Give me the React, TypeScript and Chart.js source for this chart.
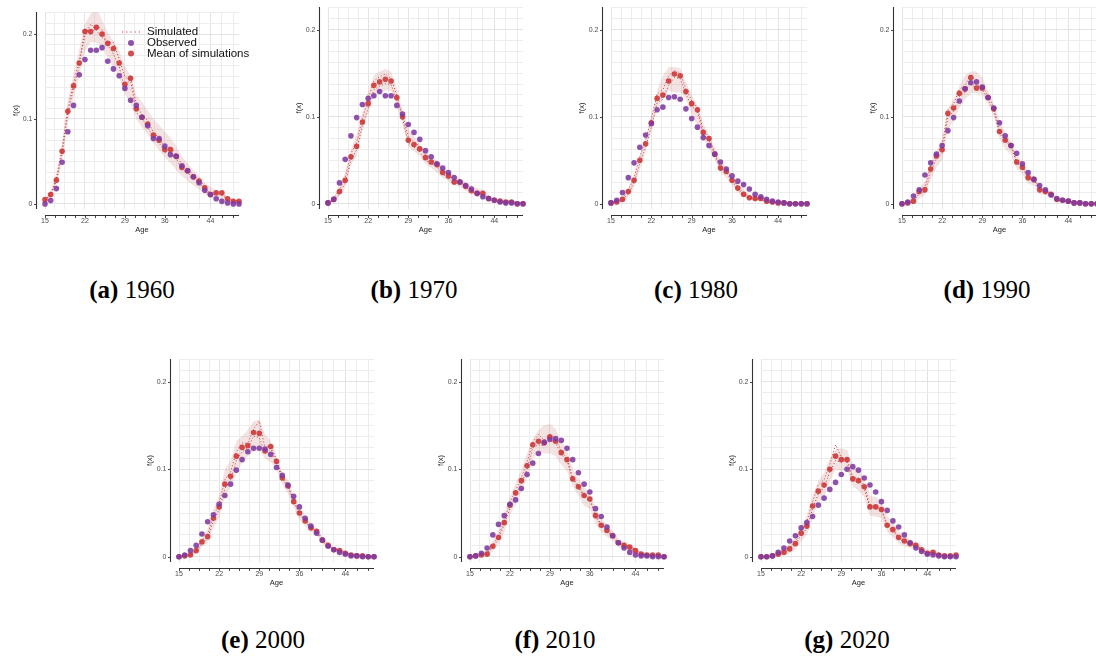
import { useEffect, useRef } from "react";
import { Chart, registerables } from "chart.js";

Chart.register(...registerables);

// Ages 15..49
const ages = [
  15, 16, 17, 18, 19, 20, 21, 22, 23, 24, 25, 26, 27, 28, 29, 30, 31, 32,
  33, 34, 35, 36, 37, 38, 39, 40, 41, 42, 43, 44, 45, 46, 47, 48, 49,
];

const xTickAges = [15, 22, 29, 36, 44];
const xGridAges = [
  15, 16.75, 18.5, 20.25, 22, 23.75, 25.5, 27.25, 29, 30.75, 32.5, 34.25, 36,
  38, 40, 42, 44, 46, 48,
];
const yTickValues = [0, 0.1, 0.2];
const yTickLabels = ["0", "0.1", "0.2"];
const yGridValues = [
  0, 0.0125, 0.025, 0.0375, 0.05, 0.0625, 0.075, 0.0875, 0.1, 0.1125, 0.125,
  0.1375, 0.15, 0.1625, 0.175, 0.1875, 0.2, 0.2125, 0.225,
];

// ---- 1960 ----
const observed1960 = [
  0.0, 0.004, 0.018, 0.049, 0.085, 0.116, 0.152, 0.17, 0.181, 0.181, 0.184,
  0.168, 0.159, 0.151, 0.136, 0.122, 0.116, 0.102, 0.092, 0.077, 0.077, 0.068,
  0.058, 0.056, 0.045, 0.039, 0.032, 0.025, 0.016, 0.011, 0.006, 0.003, 0.001,
  0.0, 0.0,
];
const mean1960 = [
  0.005, 0.011, 0.028, 0.062, 0.109, 0.139, 0.166, 0.203, 0.203, 0.208, 0.2,
  0.189, 0.183, 0.166, 0.141, 0.148, 0.112, 0.102, 0.094, 0.081, 0.075, 0.064,
  0.064, 0.056, 0.043, 0.039, 0.032, 0.027, 0.019, 0.011, 0.013, 0.013, 0.006,
  0.003, 0.003,
];
const lower1960 = [
  0.002, 0.006, 0.02, 0.05, 0.095, 0.125, 0.15, 0.18, 0.19, 0.19, 0.185, 0.172,
  0.16, 0.148, 0.13, 0.118, 0.1, 0.09, 0.082, 0.072, 0.063, 0.055, 0.048, 0.04,
  0.033, 0.027, 0.022, 0.017, 0.012, 0.008, 0.005, 0.003, 0.002, 0.001, 0.001,
];
const upper1960 = [
  0.006, 0.016, 0.036, 0.072, 0.122, 0.152, 0.182, 0.212, 0.224, 0.232, 0.216,
  0.202, 0.192, 0.18, 0.162, 0.15, 0.128, 0.12, 0.11, 0.1, 0.093, 0.085, 0.078,
  0.068, 0.056, 0.048, 0.04, 0.033, 0.025, 0.02, 0.016, 0.012, 0.008, 0.005,
  0.004,
];
const simA1960 = [
  0.004, 0.012, 0.03, 0.065, 0.112, 0.142, 0.17, 0.198, 0.212, 0.204, 0.196,
  0.19, 0.19, 0.171, 0.15, 0.145, 0.108, 0.1, 0.09, 0.079, 0.072, 0.061, 0.06,
  0.054, 0.04, 0.037, 0.03, 0.025, 0.017, 0.01, 0.012, 0.011, 0.005, 0.002,
  0.002,
];
const simB1960 = [
  0.005, 0.01, 0.027, 0.059, 0.106, 0.136, 0.162, 0.207, 0.199, 0.21, 0.205,
  0.187, 0.176, 0.162, 0.134, 0.151, 0.116, 0.105, 0.098, 0.084, 0.078, 0.066,
  0.067, 0.058, 0.046, 0.041, 0.034, 0.029, 0.021, 0.012, 0.014, 0.014, 0.007,
  0.004, 0.004,
];

// ---- 1970 ----
const observed1970 = [
  0.001, 0.005, 0.024, 0.051, 0.078, 0.099, 0.114, 0.121, 0.124, 0.129, 0.124,
  0.124, 0.113, 0.103, 0.091, 0.082, 0.074, 0.061, 0.054, 0.046, 0.041, 0.036,
  0.03, 0.025, 0.021, 0.017, 0.012, 0.008, 0.006, 0.004, 0.002, 0.001, 0.001,
  0.0, 0.0,
];
const mean1970 = [
  0.001, 0.005, 0.014, 0.027, 0.054, 0.066, 0.094, 0.115, 0.136, 0.14, 0.143,
  0.141, 0.122, 0.1, 0.073, 0.068, 0.063, 0.053, 0.048, 0.045, 0.036, 0.032,
  0.025, 0.025, 0.02, 0.015, 0.012, 0.012, 0.006, 0.004, 0.003, 0.002, 0.002,
  0.0, 0.0,
];
const lower1970 = [
  0.0, 0.002, 0.008, 0.018, 0.045, 0.055, 0.083, 0.104, 0.124, 0.128, 0.13,
  0.13, 0.112, 0.09, 0.066, 0.06, 0.055, 0.046, 0.041, 0.036, 0.03, 0.026,
  0.021, 0.019, 0.015, 0.011, 0.008, 0.007, 0.003, 0.002, 0.001, 0.001, 0.0,
  0.0, 0.0,
];
const upper1970 = [
  0.002, 0.008, 0.02, 0.036, 0.062, 0.08, 0.105, 0.128, 0.148, 0.152, 0.155,
  0.152, 0.132, 0.108, 0.086, 0.077, 0.068, 0.06, 0.054, 0.05, 0.043, 0.038,
  0.033, 0.029, 0.025, 0.021, 0.018, 0.016, 0.01, 0.007, 0.005, 0.004, 0.003,
  0.002, 0.002,
];
const simA1970 = [
  0.001, 0.006, 0.016, 0.03, 0.058, 0.07, 0.098, 0.12, 0.141, 0.146, 0.149,
  0.144, 0.125, 0.098, 0.07, 0.065, 0.06, 0.05, 0.046, 0.043, 0.034, 0.03,
  0.023, 0.024, 0.019, 0.014, 0.011, 0.011, 0.005, 0.003, 0.002, 0.002, 0.001,
  0.0, 0.0,
];
const simB1970 = [
  0.001, 0.004, 0.012, 0.024, 0.05, 0.062, 0.09, 0.11, 0.131, 0.135, 0.138,
  0.137, 0.119, 0.103, 0.076, 0.071, 0.066, 0.056, 0.05, 0.047, 0.038, 0.034,
  0.027, 0.026, 0.021, 0.016, 0.013, 0.013, 0.007, 0.005, 0.004, 0.003, 0.003,
  0.001, 0.001,
];

// ---- 1980 ----
const observed1980 = [
  0.001, 0.004, 0.013, 0.03, 0.047, 0.065, 0.079, 0.092, 0.108, 0.111, 0.122,
  0.123, 0.12, 0.109, 0.098, 0.088, 0.076, 0.067, 0.057, 0.048, 0.04, 0.032,
  0.026, 0.022, 0.017, 0.011, 0.008, 0.005, 0.003, 0.002, 0.001, 0.0, 0.0, 0.0,
  0.0,
];
const mean1980 = [
  0.001, 0.002, 0.005, 0.014, 0.027, 0.05, 0.069, 0.093, 0.121, 0.125, 0.141,
  0.149, 0.147, 0.129, 0.115, 0.108, 0.082, 0.075, 0.057, 0.041, 0.037, 0.027,
  0.018, 0.011, 0.007, 0.006, 0.006, 0.003, 0.002, 0.001, 0.001, 0.0, 0.0, 0.0,
  0.0,
];
const lower1980 = [
  0.0, 0.001, 0.002, 0.008, 0.018, 0.04, 0.06, 0.085, 0.11, 0.12, 0.13, 0.128,
  0.128, 0.12, 0.103, 0.09, 0.075, 0.063, 0.05, 0.036, 0.03, 0.021, 0.013,
  0.008, 0.005, 0.004, 0.003, 0.002, 0.001, 0.0, 0.0, 0.0, 0.0, 0.0, 0.0,
];
const upper1980 = [
  0.002, 0.004, 0.008, 0.018, 0.034, 0.056, 0.076, 0.1, 0.13, 0.147, 0.157,
  0.157, 0.156, 0.14, 0.125, 0.113, 0.092, 0.08, 0.065, 0.05, 0.042, 0.032,
  0.023, 0.016, 0.011, 0.009, 0.008, 0.005, 0.003, 0.002, 0.002, 0.001, 0.001,
  0.001, 0.001,
];
const simA1980 = [
  0.001, 0.002, 0.006, 0.016, 0.03, 0.054, 0.073, 0.098, 0.126, 0.131, 0.147,
  0.153, 0.15, 0.132, 0.118, 0.11, 0.084, 0.077, 0.058, 0.042, 0.036, 0.026,
  0.017, 0.01, 0.006, 0.005, 0.005, 0.002, 0.001, 0.001, 0.0, 0.0, 0.0, 0.0,
  0.0,
];
const simB1980 = [
  0.001, 0.002, 0.004, 0.012, 0.024, 0.046, 0.065, 0.088, 0.116, 0.12, 0.136,
  0.145, 0.144, 0.126, 0.112, 0.106, 0.08, 0.073, 0.056, 0.04, 0.038, 0.028,
  0.019, 0.012, 0.008, 0.007, 0.007, 0.004, 0.003, 0.002, 0.001, 0.001, 0.0,
  0.0, 0.0,
];

// ---- 1990 ----
const observed1990 = [
  0.0, 0.002, 0.009, 0.016, 0.033, 0.047, 0.057, 0.067, 0.084, 0.099, 0.118,
  0.132, 0.139, 0.14, 0.134, 0.122, 0.11, 0.093, 0.078, 0.067, 0.058, 0.046,
  0.036, 0.028, 0.021, 0.016, 0.01, 0.006, 0.004, 0.003, 0.001, 0.001, 0.0,
  0.0, 0.0,
];
const mean1990 = [
  0.0, 0.001, 0.003, 0.014, 0.016, 0.04, 0.055, 0.062, 0.104, 0.11, 0.127,
  0.132, 0.145, 0.133, 0.133, 0.122, 0.109, 0.083, 0.073, 0.067, 0.048, 0.042,
  0.03, 0.028, 0.016, 0.014, 0.011, 0.005, 0.004, 0.003, 0.001, 0.001, 0.0,
  0.0, 0.0,
];
const lower1990 = [
  0.0, 0.0, 0.001, 0.006, 0.01, 0.028, 0.042, 0.05, 0.085, 0.095, 0.11, 0.12,
  0.127, 0.127, 0.125, 0.115, 0.1, 0.075, 0.063, 0.057, 0.04, 0.034, 0.023,
  0.021, 0.011, 0.01, 0.007, 0.003, 0.002, 0.001, 0.0, 0.0, 0.0, 0.0, 0.0,
];
const upper1990 = [
  0.001, 0.003, 0.008, 0.018, 0.026, 0.045, 0.06, 0.075, 0.108, 0.12, 0.135,
  0.148, 0.152, 0.152, 0.145, 0.13, 0.115, 0.095, 0.082, 0.072, 0.057, 0.048,
  0.036, 0.032, 0.021, 0.018, 0.014, 0.008, 0.006, 0.005, 0.003, 0.002, 0.001,
  0.001, 0.001,
];
const simA1990 = [
  0.0, 0.001, 0.004, 0.016, 0.019, 0.044, 0.058, 0.066, 0.108, 0.115, 0.131,
  0.136, 0.149, 0.136, 0.135, 0.124, 0.111, 0.085, 0.074, 0.068, 0.049, 0.043,
  0.031, 0.029, 0.017, 0.015, 0.012, 0.006, 0.004, 0.003, 0.002, 0.001, 0.0,
  0.0, 0.0,
];
const simB1990 = [
  0.0, 0.001, 0.002, 0.012, 0.014, 0.036, 0.052, 0.058, 0.1, 0.106, 0.123,
  0.128, 0.141, 0.13, 0.131, 0.12, 0.107, 0.081, 0.072, 0.066, 0.047, 0.041,
  0.029, 0.027, 0.015, 0.013, 0.01, 0.004, 0.003, 0.002, 0.001, 0.001, 0.0,
  0.0, 0.0,
];

// ---- 2000 ----
const observed2000 = [
  0.0, 0.002, 0.007, 0.013, 0.026, 0.04, 0.048, 0.06, 0.07, 0.083, 0.099,
  0.111, 0.12, 0.124, 0.124, 0.123, 0.117, 0.102, 0.093, 0.082, 0.069, 0.057,
  0.044, 0.035, 0.027, 0.019, 0.012, 0.008, 0.005, 0.003, 0.001, 0.001, 0.0,
  0.0, 0.0,
];
const mean2000 = [
  0.0, 0.001, 0.002, 0.007, 0.017, 0.023, 0.044, 0.057, 0.083, 0.092, 0.115,
  0.125, 0.127, 0.142, 0.141, 0.121, 0.126, 0.109, 0.09, 0.081, 0.063, 0.05,
  0.041, 0.033, 0.029, 0.019, 0.013, 0.008, 0.007, 0.004, 0.002, 0.001, 0.001,
  0.0, 0.0,
];
const lower2000 = [
  0.0, 0.0, 0.001, 0.004, 0.011, 0.016, 0.033, 0.045, 0.068, 0.08, 0.095,
  0.108, 0.115, 0.12, 0.122, 0.112, 0.108, 0.1, 0.083, 0.072, 0.056, 0.043,
  0.035, 0.028, 0.024, 0.015, 0.01, 0.006, 0.005, 0.002, 0.001, 0.0, 0.0, 0.0,
  0.0,
];
const upper2000 = [
  0.001, 0.002, 0.004, 0.01, 0.022, 0.032, 0.055, 0.07, 0.1, 0.11, 0.132,
  0.138, 0.145, 0.155, 0.157, 0.14, 0.133, 0.115, 0.097, 0.088, 0.07, 0.057,
  0.047, 0.038, 0.033, 0.023, 0.017, 0.011, 0.009, 0.006, 0.004, 0.003, 0.002,
  0.001, 0.001,
];
const simA2000 = [
  0.0, 0.001, 0.002, 0.008, 0.019, 0.025, 0.047, 0.06, 0.088, 0.097, 0.12,
  0.13, 0.13, 0.146, 0.155, 0.124, 0.128, 0.111, 0.091, 0.082, 0.064, 0.051,
  0.042, 0.034, 0.03, 0.02, 0.014, 0.009, 0.008, 0.005, 0.003, 0.002, 0.001,
  0.0, 0.0,
];
const simB2000 = [
  0.0, 0.001, 0.002, 0.006, 0.015, 0.021, 0.041, 0.054, 0.078, 0.088, 0.11,
  0.12, 0.124, 0.138, 0.136, 0.118, 0.124, 0.107, 0.089, 0.08, 0.062, 0.049,
  0.04, 0.032, 0.028, 0.018, 0.012, 0.007, 0.006, 0.003, 0.002, 0.001, 0.001,
  0.0, 0.0,
];

// ---- 2010 ----
const observed2010 = [
  0.0, 0.001, 0.004, 0.01, 0.025, 0.037, 0.047, 0.06, 0.065, 0.078, 0.094,
  0.107, 0.118, 0.131, 0.134, 0.135, 0.133, 0.124, 0.111, 0.096, 0.083, 0.074,
  0.055, 0.046, 0.034, 0.024, 0.016, 0.01, 0.005, 0.002, 0.001, 0.001, 0.0,
  0.0, 0.0,
];
const mean2010 = [
  0.0, 0.001, 0.002, 0.003, 0.012, 0.022, 0.039, 0.059, 0.073, 0.087, 0.104,
  0.128, 0.132, 0.13, 0.137, 0.132, 0.119, 0.111, 0.089, 0.08, 0.07, 0.066,
  0.047, 0.036, 0.03, 0.024, 0.016, 0.013, 0.011, 0.007, 0.003, 0.002, 0.002,
  0.002, 0.0,
];
const lower2010 = [
  0.0, 0.0, 0.001, 0.001, 0.006, 0.014, 0.028, 0.048, 0.06, 0.075, 0.09, 0.112,
  0.12, 0.118, 0.118, 0.115, 0.105, 0.098, 0.08, 0.07, 0.058, 0.055, 0.038,
  0.028, 0.023, 0.018, 0.011, 0.008, 0.006, 0.004, 0.001, 0.001, 0.0, 0.0, 0.0,
];
const upper2010 = [
  0.001, 0.002, 0.004, 0.008, 0.018, 0.03, 0.05, 0.068, 0.084, 0.1, 0.118,
  0.135, 0.145, 0.15, 0.152, 0.146, 0.132, 0.122, 0.1, 0.09, 0.08, 0.072,
  0.056, 0.044, 0.037, 0.03, 0.021, 0.017, 0.014, 0.01, 0.006, 0.004, 0.003,
  0.003, 0.002,
];
const simA2010 = [
  0.0, 0.001, 0.002, 0.004, 0.013, 0.024, 0.041, 0.062, 0.076, 0.09, 0.108,
  0.131, 0.14, 0.133, 0.139, 0.134, 0.121, 0.112, 0.09, 0.081, 0.071, 0.067,
  0.048, 0.037, 0.031, 0.025, 0.017, 0.014, 0.012, 0.008, 0.004, 0.003, 0.002,
  0.002, 0.0,
];
const simB2010 = [
  0.0, 0.001, 0.002, 0.003, 0.011, 0.02, 0.037, 0.056, 0.07, 0.084, 0.1,
  0.125, 0.128, 0.127, 0.134, 0.13, 0.117, 0.11, 0.088, 0.079, 0.069, 0.065,
  0.046, 0.035, 0.029, 0.023, 0.015, 0.012, 0.01, 0.006, 0.002, 0.002, 0.002,
  0.002, 0.0,
];

// ---- 2020 ----
const observed2020 = [
  0.0, 0.0, 0.001, 0.005, 0.01, 0.018, 0.024, 0.033, 0.039, 0.046, 0.059,
  0.067, 0.077, 0.085, 0.094, 0.1, 0.103, 0.099, 0.09, 0.082, 0.074, 0.063,
  0.053, 0.041, 0.034, 0.025, 0.016, 0.01, 0.006, 0.003, 0.002, 0.001, 0.0,
  0.0, 0.0,
];
const mean2020 = [
  0.0, 0.0, 0.001, 0.003, 0.005, 0.009, 0.015, 0.027, 0.035, 0.058, 0.075,
  0.082, 0.1, 0.115, 0.111, 0.111, 0.089, 0.087, 0.08, 0.057, 0.057, 0.054,
  0.036, 0.031, 0.022, 0.018, 0.015, 0.013, 0.008, 0.004, 0.005, 0.002, 0.001,
  0.001, 0.002,
];
const lower2020 = [
  0.0, 0.0, 0.0, 0.001, 0.002, 0.004, 0.008, 0.018, 0.025, 0.045, 0.062, 0.068,
  0.086, 0.1, 0.098, 0.1, 0.08, 0.076, 0.068, 0.047, 0.046, 0.044, 0.028,
  0.023, 0.015, 0.012, 0.01, 0.009, 0.005, 0.002, 0.002, 0.001, 0.0, 0.0, 0.0,
];
const upper2020 = [
  0.001, 0.001, 0.002, 0.006, 0.009, 0.015, 0.022, 0.036, 0.047, 0.07, 0.087,
  0.096, 0.112, 0.123, 0.124, 0.122, 0.105, 0.1, 0.09, 0.07, 0.068, 0.064,
  0.046, 0.04, 0.03, 0.025, 0.02, 0.017, 0.012, 0.008, 0.008, 0.005, 0.003,
  0.003, 0.003,
];
const simA2020 = [
  0.0, 0.0, 0.001, 0.003, 0.006, 0.01, 0.017, 0.03, 0.04, 0.063, 0.082, 0.088,
  0.106, 0.128, 0.114, 0.108, 0.087, 0.085, 0.078, 0.056, 0.056, 0.053, 0.035,
  0.03, 0.021, 0.017, 0.014, 0.012, 0.008, 0.004, 0.005, 0.002, 0.001, 0.001,
  0.002,
];
const simB2020 = [
  0.0, 0.0, 0.001, 0.003, 0.005, 0.008, 0.014, 0.025, 0.032, 0.055, 0.072,
  0.079, 0.097, 0.11, 0.108, 0.112, 0.091, 0.089, 0.082, 0.058, 0.058, 0.055,
  0.037, 0.032, 0.023, 0.019, 0.016, 0.014, 0.009, 0.005, 0.005, 0.002, 0.001,
  0.001, 0.002,
];

// Colours
const OBS_COLOR = "rgba(128, 58, 160, 0.88)";
const MEAN_COLOR = "rgba(204, 52, 52, 0.88)";
const SIM_COLOR = "rgba(210, 40, 40, 0.9)";
const RIBBON_COLOR = "rgba(196, 100, 100, 0.18)";
const SANS = "'Liberation Sans', Arial, sans-serif";

type PanelSpec = {
  letter: string;
  year: string;
  observed: number[];
  mean: number[];
  lower: number[];
  upper: number[];
  sims: number[][];
  legend: boolean;
  // layout in page pixels
  plotLeft: number;
  plotRight: number;
  gridTop: number;
  gridBottom: number;
  rowTop: number;
  captionX: number;
  captionY: number;
};

const panels: PanelSpec[] = [
  { letter: "(a)", year: "1960", observed: observed1960, mean: mean1960, lower: lower1960, upper: upper1960, sims: [simA1960, simB1960], legend: true, plotLeft: 45, plotRight: 239, gridTop: 12, gridBottom: 209, rowTop: 0, captionX: 132, captionY: 290 },
  { letter: "(b)", year: "1970", observed: observed1970, mean: mean1970, lower: lower1970, upper: upper1970, sims: [simA1970, simB1970], legend: false, plotLeft: 328, plotRight: 523, gridTop: 7, gridBottom: 209, rowTop: 0, captionX: 414, captionY: 290 },
  { letter: "(c)", year: "1980", observed: observed1980, mean: mean1980, lower: lower1980, upper: upper1980, sims: [simA1980, simB1980], legend: false, plotLeft: 611, plotRight: 807, gridTop: 7, gridBottom: 209, rowTop: 0, captionX: 696, captionY: 290 },
  { letter: "(d)", year: "1990", observed: observed1990, mean: mean1990, lower: lower1990, upper: upper1990, sims: [simA1990, simB1990], legend: false, plotLeft: 902, plotRight: 1097, gridTop: 7, gridBottom: 209, rowTop: 0, captionX: 987, captionY: 290 },
  { letter: "(e)", year: "2000", observed: observed2000, mean: mean2000, lower: lower2000, upper: upper2000, sims: [simA2000, simB2000], legend: false, plotLeft: 179, plotRight: 374, gridTop: 359, gridBottom: 562, rowTop: 352, captionX: 263, captionY: 640 },
  { letter: "(f)", year: "2010", observed: observed2010, mean: mean2010, lower: lower2010, upper: upper2010, sims: [simA2010, simB2010], legend: false, plotLeft: 470, plotRight: 664, gridTop: 359, gridBottom: 562, rowTop: 352, captionX: 555, captionY: 640 },
  { letter: "(g)", year: "2020", observed: observed2020, mean: mean2020, lower: lower2020, upper: upper2020, sims: [simA2020, simB2020], legend: false, plotLeft: 761, plotRight: 956, gridTop: 359, gridBottom: 562, rowTop: 352, captionX: 847, captionY: 640 },
];

const CANVAS_W = 270;
const CANVAS_H = 245;
const LEFT_PAD = 45;

const toPoints = (values: number[]) => ages.map((age, i) => ({ x: age, y: values[i] }));

// Offset axis lines, tick marks, tick labels, axis titles and the legend
const panelAxes = {
  id: "panelAxes",
  afterDraw(chart: any, _args: any, opts: any) {
    const { ctx, chartArea: ca, scales } = chart;
    const x = scales.x;
    const y = scales.y;
    const axX = Math.round(ca.left - 9) + 0.5;
    const axY = Math.round(ca.bottom + 6) + 0.5;
    ctx.save();
    ctx.strokeStyle = "#333333";
    ctx.lineWidth = 1.1;
    ctx.beginPath();
    ctx.moveTo(axX, ca.top);
    ctx.lineTo(axX, ca.bottom);
    ctx.moveTo(ca.left, axY);
    ctx.lineTo(ca.right, axY);
    ctx.stroke();

    ctx.lineWidth = 0.9;
    ctx.beginPath();
    yTickValues.forEach((v) => {
      const py = Math.round(y.getPixelForValue(v)) + 0.5;
      ctx.moveTo(axX - 2.5, py);
      ctx.lineTo(axX, py);
    });
    xGridAges.forEach((v) => {
      const px = Math.round(x.getPixelForValue(v)) + 0.5;
      ctx.moveTo(px, axY);
      ctx.lineTo(px, axY + 2.5);
    });
    ctx.stroke();

    ctx.fillStyle = "#4d4d4d";
    ctx.font = `7px ${SANS}`;
    ctx.textAlign = "right";
    ctx.textBaseline = "middle";
    yTickValues.forEach((v, i) => {
      ctx.fillText(yTickLabels[i], axX - 4, y.getPixelForValue(v));
    });
    ctx.textAlign = "center";
    ctx.textBaseline = "top";
    xTickAges.forEach((v) => {
      ctx.fillText(String(v), x.getPixelForValue(v), axY + 2.5);
    });

    ctx.fillStyle = "#222222";
    ctx.font = `7.5px ${SANS}`;
    ctx.textBaseline = "middle";
    ctx.fillText("Age", (ca.left + ca.right) / 2, axY + 14.5);
    ctx.save();
    ctx.translate(axX - 21, (ca.top + ca.bottom) / 2);
    ctx.rotate(-Math.PI / 2);
    ctx.fillText("f(x)", 0, 0);
    ctx.restore();

    if (opts && opts.legend) {
      const lx = ca.left + 86;
      const rows = [ca.top + 20, ca.top + 31, ca.top + 41.5];
      ctx.strokeStyle = SIM_COLOR;
      ctx.lineWidth = 1.1;
      ctx.setLineDash([1.2, 3]);
      ctx.beginPath();
      ctx.moveTo(lx - 9, rows[0]);
      ctx.lineTo(lx + 9, rows[0]);
      ctx.stroke();
      ctx.setLineDash([]);
      ctx.fillStyle = OBS_COLOR;
      ctx.beginPath();
      ctx.arc(lx, rows[1], 3, 0, Math.PI * 2);
      ctx.fill();
      ctx.fillStyle = MEAN_COLOR;
      ctx.beginPath();
      ctx.arc(lx, rows[2], 3, 0, Math.PI * 2);
      ctx.fill();
      ctx.fillStyle = "#111111";
      ctx.font = `11.5px ${SANS}`;
      ctx.textAlign = "left";
      ctx.textBaseline = "middle";
      ctx.fillText("Simulated", lx + 16, rows[0]);
      ctx.fillText("Observed", lx + 16, rows[1]);
      ctx.fillText("Mean of simulations", lx + 16, rows[2]);
    }
    ctx.restore();
  },
};

function PanelChart({ panel }: { panel: PanelSpec }) {
  const ref = useRef<HTMLCanvasElement | null>(null);

  useEffect(() => {
    if (!ref.current) return;
    const plotW = panel.plotRight - panel.plotLeft;
    const padTop = panel.gridTop - panel.rowTop;
    const padBottom = CANVAS_H - (panel.gridBottom - panel.rowTop);
    const padRight = CANVAS_W - LEFT_PAD - plotW;

    const datasets: any[] = [
      {
        label: "lower",
        data: toPoints(panel.lower),
        borderWidth: 0,
        pointRadius: 0,
        fill: false,
        tension: 0,
        order: 10,
      },
      {
        label: "upper",
        data: toPoints(panel.upper),
        borderWidth: 0,
        pointRadius: 0,
        fill: "-1",
        backgroundColor: RIBBON_COLOR,
        tension: 0,
        order: 9,
      },
      ...panel.sims.map((s, i) => ({
        label: "Simulated " + (i + 1),
        data: toPoints(s),
        borderColor: SIM_COLOR,
        borderWidth: 1,
        borderDash: [1, 2.2],
        pointRadius: 0,
        fill: false,
        tension: 0,
        order: 5 + i,
      })),
      {
        label: "Mean of simulations",
        data: toPoints(panel.mean),
        showLine: false,
        pointRadius: 2.8,
        pointBorderWidth: 0,
        pointBackgroundColor: MEAN_COLOR,
        backgroundColor: MEAN_COLOR,
        clip: false,
        order: 2,
      },
      {
        label: "Observed",
        data: toPoints(panel.observed),
        showLine: false,
        pointRadius: 2.8,
        pointBorderWidth: 0,
        pointBackgroundColor: OBS_COLOR,
        backgroundColor: OBS_COLOR,
        clip: false,
        order: 1,
      },
    ];

    const chart = new Chart(ref.current, {
      type: "line",
      data: { datasets },
      options: {
        animation: false,
        responsive: false,
        events: [],
        layout: { padding: { left: LEFT_PAD, right: padRight, top: padTop, bottom: padBottom } },
        plugins: {
          legend: { display: false },
          tooltip: { enabled: false },
          panelAxes: { legend: panel.legend },
        } as any,
        scales: {
          x: {
            type: "linear",
            min: 15,
            max: 49,
            border: { display: false },
            ticks: { display: false },
            grid: {
              drawTicks: false,
              color: (c: any) => (xTickAges.includes(c.tick?.value) ? "#e3e3e3" : "#ededed"),
              lineWidth: 1,
            },
            afterBuildTicks: (scale: any) => {
              scale.ticks = xGridAges.map((v) => ({ value: v }));
            },
          },
          y: {
            type: "linear",
            min: -0.006,
            max: 0.226,
            border: { display: false },
            ticks: { display: false },
            grid: {
              drawTicks: false,
              color: (c: any) => (yTickValues.includes(c.tick?.value) ? "#e3e3e3" : "#ededed"),
              lineWidth: 1,
            },
            afterBuildTicks: (scale: any) => {
              scale.ticks = yGridValues.map((v) => ({ value: v }));
            },
          },
        },
      } as any,
      plugins: [panelAxes as any],
    });
    return () => chart.destroy();
  }, [panel]);

  return (
    <canvas
      ref={ref}
      width={CANVAS_W}
      height={CANVAS_H}
      style={{
        position: "absolute",
        left: panel.plotLeft - LEFT_PAD,
        top: panel.rowTop,
        width: CANVAS_W,
        height: CANVAS_H,
      }}
    />
  );
}

export default function App() {
  return (
    <div
      style={{
        position: "absolute",
        left: 0,
        top: 0,
        width: 1096,
        height: 657,
        overflow: "hidden",
        background: "#ffffff",
      }}
    >
      {panels.map((p) => (
        <PanelChart key={p.year} panel={p} />
      ))}
      {panels.map((p) => (
        <div
          key={"cap" + p.year}
          style={{
            position: "absolute",
            left: p.captionX - 100,
            top: p.captionY - 15,
            width: 200,
            height: 30,
            lineHeight: "30px",
            textAlign: "center",
            fontFamily: "'Liberation Serif', 'Times New Roman', serif",
            fontSize: 25,
            color: "#000000",
            whiteSpace: "nowrap",
          }}
        >
          <b>{p.letter}</b> {p.year}
        </div>
      ))}
    </div>
  );
}
